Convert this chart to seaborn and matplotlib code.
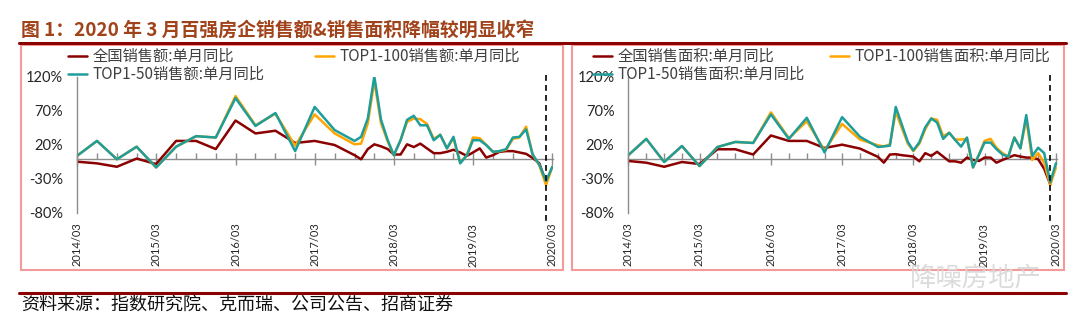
import numpy as np
import pandas as pd
import matplotlib
matplotlib.use("Agg")
import matplotlib.pyplot as plt
import matplotlib.dates as mdates
from matplotlib.lines import Line2D
from matplotlib.patches import Rectangle
import seaborn as sns

# ---------------- data ----------------
dates = ["2014-03", "2014-06", "2014-09", "2014-12", "2015-03", "2015-06", "2015-09", "2015-12",
         "2016-03", "2016-06", "2016-09", "2016-12", "2017-03", "2017-06", "2017-09",
         "2017-10", "2017-11", "2017-12", "2018-01", "2018-02", "2018-03", "2018-04", "2018-05",
         "2018-06", "2018-07", "2018-08", "2018-09", "2018-10", "2018-11", "2018-12", "2019-01",
         "2019-02", "2019-03", "2019-04", "2019-05", "2019-06", "2019-07", "2019-08", "2019-09",
         "2019-10", "2019-11", "2019-12", "2020-01", "2020-02", "2020-03"]

# sales amount, YoY %
nat_amt = [-4.5, -7, -12, 0, -8, 26, 26, 14, 56, 37, 41, 23, 26, 20, 5,
           -1, 14, 21, 18, 14, 6, 6, 21, 17, 22, 15, 8, 8, 10, 13, 9, 4, 9, 15, 1.5,
           5, 10, 11, 11, 9, 7, 1, -7, -35, np.nan]
top100_amt = [4, 26, -1, 17.5, -13, 17.5, 33, 31, 92, 49, 66, 19, 65, 37, 21,
              22, 52, 114, 52, 25, 5, 27, 54, 59, 58, 51, 29, 35, 15, 30, -6, 5, 31, 30, 20,
              10, 11, 13, 29, 31, 47, 6, -10, -39, -12]
top50_amt = [4, 26, -1, 17.5, -13, 17.5, 33, 31, 89, 48, 67, 11, 76, 42, 26,
             32, 59, 121, 57, 27, 5, 27, 57, 63, 49, 49, 27, 35, 15, 32, -7, 5, 27, 27, 20,
             10, 11, 14, 31, 32, 43, 6, -9, -33, -12]

# sales area, YoY %
nat_area = [-3.5, -6, -12, -5, -8, 13.7, 13.7, 6, 34, 26, 26, 15.6, 20.5, 14.7, 2.5,
            -6, 6, 6.5, 5, 4, 3, -4, 8, 4, 10, 3, -4, -4, -6, 1.5, -2, -3.5, 1.5, 1.5, -6,
            -2, 1.5, 5, 3, 1.5, 1.5, -1, -15, -38, np.nan]
top100_area = [5, 29, -5, 18.5, -11, 17, 24.5, 23, 68, 30, 55, 12, 51, 28, 19.5,
               18, 21, 69, 45, 22, 11, 22, 43, 59, 57, 33, 38, 28, 28, 29, -13, 6, 26, 29, 16,
               8, 3, 31, 15, 58, -2, 8, -6, -39, -13]
top50_area = [5, 29, -5, 18.5, -11, 17, 24.5, 23, 65, 29, 60, 9, 61, 32, 17,
              18, 19, 76, 50, 24.5, 12, 24, 46, 59, 53, 29, 38, 27.5, 17.6, 31, -13, 6, 23.5, 23.5, 14,
              6, 3, 31, 15, 64, 4, 16, 8, -35, -7]

labels_amt = ["全国销售额:单月同比", "TOP1-100销售额:单月同比", "TOP1-50销售额:单月同比"]
labels_area = ["全国销售面积:单月同比", "TOP1-100销售面积:单月同比", "TOP1-50销售面积:单月同比"]

yticks = [-80, -30, 20, 70, 120]
xtick_dates = ["2014-03", "2015-03", "2016-03", "2017-03", "2018-03", "2019-03", "2020-03"]
xtick_labels = ["2014/03", "2015/03", "2016/03", "2017/03", "2018/03", "2019/03", "2020/03"]
marker_date = "2020-02"

title = "图 1：2020 年 3 月百强房企销售额&销售面积降幅较明显收窄"
source = "资料来源：指数研究院、克而瑞、公司公告、招商证券"
watermark = "降噪房地产"

# ---------------- style ----------------
sns.set_theme(style="white")
plt.rcParams["font.family"] = ["Lato", "Noto Sans CJK SC", "DejaVu Sans"]
CJK = ["Noto Sans CJK SC", "DejaVu Sans"]
colors = ["#8B0000", "#FFA500", "#1E9E9B"]
GRAY = "#8C8C8C"

W, H = 1080, 329
fig = plt.figure(figsize=(W / 100, H / 100), dpi=100)
fig.patch.set_facecolor("white")


def fx(px):
    return px / W


def fy(py):
    return 1 - py / H


def panel(x0, x1, vals, labels, leg1_x, leg2_x):
    ax = fig.add_axes([fx(x0), fy(213), fx(x1) - fx(x0), fy(77) - fy(213)])
    d = pd.to_datetime(dates)
    df = pd.DataFrame({
        "date": np.tile(d, 3),
        "value": np.concatenate([np.asarray(v, dtype=float) for v in vals]),
        "series": np.repeat(labels, len(dates)),
    })
    sns.lineplot(data=df, x="date", y="value", hue="series", hue_order=labels,
                 palette=colors, estimator=None, sort=False, linewidth=1.8, ax=ax,
                 legend=True)
    handles, lbls = ax.get_legend_handles_labels()
    ax.get_legend().remove()
    for h in handles:
        h.set_linewidth(1.8)

    xmin = mdates.date2num(pd.Timestamp("2014-03-01"))
    xmax = mdates.date2num(pd.Timestamp("2020-03-04"))
    ax.set_xlim(xmin, xmax)
    ax.set_ylim(-80, 120)
    ax.set_xlabel("")
    ax.set_ylabel("")
    for s in ["top", "right", "bottom"]:
        ax.spines[s].set_visible(False)
    ax.spines["left"].set_color(GRAY)
    ax.spines["left"].set_linewidth(1.0)
    ax.set_yticks(yticks)
    ax.set_yticklabels([f"{v}%" for v in yticks])
    ax.tick_params(axis="y", direction="out", length=4, width=1, color=GRAY,
                   pad=6, labelsize=10.5, labelcolor="#262626")
    ax.set_xticks(mdates.date2num(pd.to_datetime(xtick_dates)))
    ax.set_xticklabels(xtick_labels, rotation=90, ha="center", va="top")
    ax.tick_params(axis="x", length=0, pad=7, labelsize=8, labelcolor="#262626")
    ax.grid(False)
    ax.patch.set_visible(False)

    # zero line axis with quarterly ticks
    ax2 = ax.twiny()
    ax2.set_xlim(xmin, xmax)
    for s in ["top", "left", "right"]:
        ax2.spines[s].set_visible(False)
    ax2.spines["bottom"].set_visible(True)
    ax2.spines["bottom"].set_position(("data", 0))
    ax2.spines["bottom"].set_color(GRAY)
    ax2.spines["bottom"].set_linewidth(1.0)
    ax2.xaxis.set_ticks_position("bottom")
    ax2.set_xticks(mdates.date2num(pd.to_datetime(xtick_dates)))
    ax2.set_xticklabels([])
    ax2.set_xticks(mdates.date2num(pd.date_range("2014-03-01", "2020-03-01", freq="3MS")), minor=True)
    ax2.tick_params(which="major", direction="inout", length=8, width=1, color=GRAY)
    ax2.tick_params(which="minor", direction="in", length=4, width=1, color=GRAY)
    ax2.grid(False)
    ax2.set_zorder(ax.get_zorder() - 1)

    # dashed marker
    mx = mdates.date2num(pd.Timestamp(marker_date + "-01"))
    ax.plot([mx, mx], [123, -93], ls=(0, (3.5, 2.5)), color="black", lw=1.2, clip_on=False)

    prop = {"family": CJK, "size": 11}
    order1 = [0, 2]
    fig.legend([handles[i] for i in order1], [lbls[i] for i in order1],
               loc="upper left", bbox_to_anchor=(fx(leg1_x), fy(48)),
               bbox_transform=fig.transFigure, frameon=False, prop=prop,
               borderpad=0, borderaxespad=0, handlelength=1.25, handletextpad=0.35,
               labelspacing=0.08, labelcolor="#404040")
    fig.legend([handles[1]], [lbls[1]],
               loc="upper left", bbox_to_anchor=(fx(leg2_x), fy(48)),
               bbox_transform=fig.transFigure, frameon=False, prop=prop,
               borderpad=0, borderaxespad=0, handlelength=1.25, handletextpad=0.35,
               labelcolor="#404040")
    return ax


panel(77, 553, [nat_amt, top100_amt, top50_amt], labels_amt, 68, 315)
panel(628.3, 1056.5, [nat_area, top100_area, top50_area], labels_area, 593, 830)

# frames
for (x0, x1) in [(20.5, 562.7), (571.7, 1064)]:
    fig.add_artist(Rectangle((fx(x0), fy(270)), fx(x1) - fx(x0), fy(44.5) - fy(270),
                             transform=fig.transFigure, fill=False,
                             edgecolor="#F59A9A", linewidth=1.5))

# title and rules
fig.text(fx(21), fy(30), title, fontsize=13.6, fontweight="bold", color="#A0421A",
         family=CJK, va="center", ha="left")
for yy in [43, 292.5]:
    fig.add_artist(Line2D([fx(19), fx(1066)], [fy(yy), fy(yy)], transform=fig.transFigure,
                          color="#8B0000", linewidth=2.2))

fig.text(fx(21), fy(305), source, fontsize=13, color="#111111", family=CJK,
         va="center", ha="left")
fig.text(fx(910), fy(279), watermark, fontsize=19, color="#D8D8D8", family=CJK,
         va="center", ha="left", alpha=0.9)

fig.savefig("out.png", dpi=100)
